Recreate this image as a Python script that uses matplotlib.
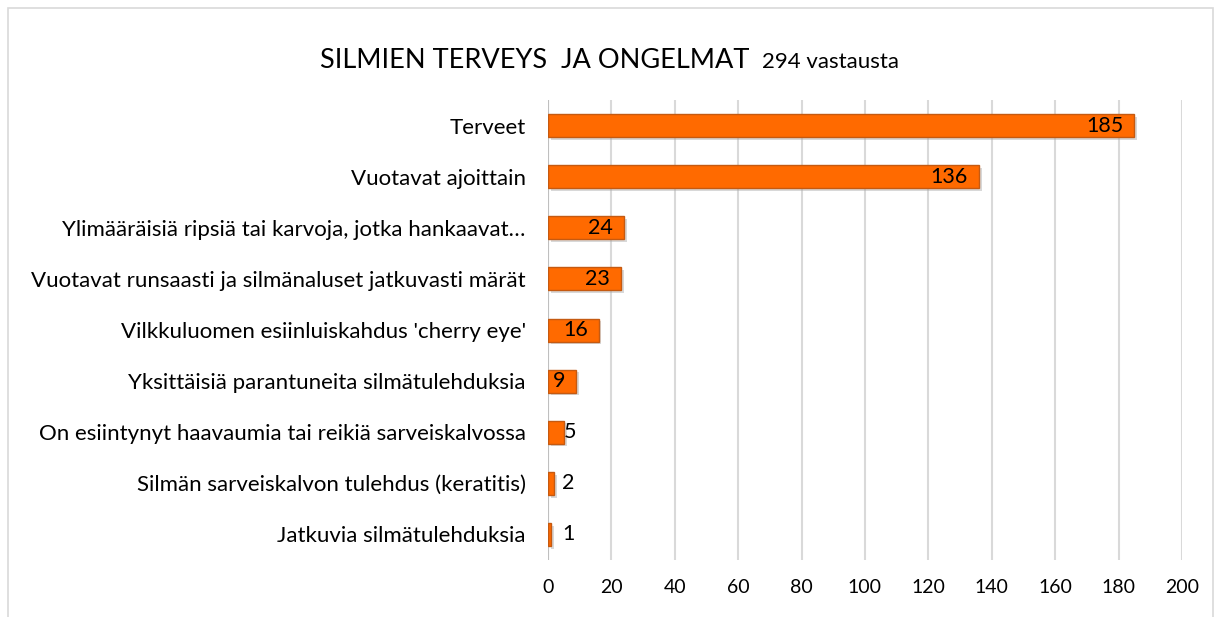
import matplotlib
matplotlib.use("Agg")
import matplotlib.pyplot as plt
import matplotlib.patheffects as pe
from matplotlib.patches import Rectangle

# kategoriat ja vastausmäärät (ylhäältä alas)
kategoriat = [
    "Terveet",
    "Vuotavat ajoittain",
    "Ylimääräisiä ripsiä tai karvoja, jotka hankaavat…",
    "Vuotavat runsaasti ja silmänaluset jatkuvasti märät",
    "Vilkkuluomen esiinluiskahdus 'cherry eye'",
    "Yksittäisiä parantuneita silmätulehduksia",
    "On esiintynyt haavaumia tai reikiä sarveiskalvossa",
    "Silmän sarveiskalvon tulehdus (keratitis)",
    "Jatkuvia silmätulehduksia",
]
vastaukset = [185, 136, 24, 23, 16, 9, 5, 2, 1]
x_ticks = [0, 20, 40, 60, 80, 100, 120, 140, 160, 180, 200]

plt.rcParams['font.family'] = ['Lato', 'DejaVu Sans']

fig = plt.figure(figsize=(12.22, 6.17), dpi=100)
ax = fig.add_axes([0.4484, 0.0924, 0.5188, 0.7455])

# harmaa kehys kuvan ympärillä
fig.patches.append(Rectangle((8 / 1222, -0.01), 1205 / 1222, 1 - 8 / 617 + 0.01,
                             transform=fig.transFigure, fill=False,
                             edgecolor="#d9d9d9", linewidth=1.2))

y = list(range(len(kategoriat)))
bars = ax.barh(y, vastaukset, height=0.45, color="#ff6a00",
               edgecolor="#c55a11", linewidth=1, zorder=3)
for b in bars:
    b.set_path_effects([pe.SimplePatchShadow(offset=(2, -2), shadow_rgbFace="#aaaaaa", alpha=0.45),
                        pe.Normal()])

# arvot palkkien päihin
for yy, v in zip(y, vastaukset):
    if v >= 9:
        ax.annotate(str(v), (v, yy), xytext=(-8, 0), textcoords="offset points",
                    ha="right", va="center", fontsize=15.5, zorder=4)
    else:
        ax.annotate(str(v), (max(v, 4.5), yy), xytext=(0, 0), textcoords="offset points",
                    ha="left", va="center", fontsize=15.5, zorder=4)

ax.set_ylim(len(kategoriat) - 0.5, -0.5)
ax.set_xlim(0, 200)
ax.set_yticks(y)
ax.set_yticklabels(kategoriat, fontsize=16)
ax.set_xticks(x_ticks)
ax.tick_params(axis="x", labelsize=14, length=0, pad=14)
ax.tick_params(axis="y", length=0, pad=16)
ax.grid(axis="x", color="#d9d9d9", linewidth=1.5, zorder=0)
for s in ax.spines.values():
    s.set_visible(False)
ax.axvline(0, color="#bfbfbf", linewidth=1.5, zorder=2)

fig.text(320 / 1222, 1 - 68 / 617, "SILMIEN TERVEYS  JA ONGELMAT", fontsize=19.5,
         ha="left", va="baseline")
fig.text(762 / 1222, 1 - 68 / 617, "294 vastausta", fontsize=16,
         ha="left", va="baseline")

fig.savefig("out.png", dpi=100)
